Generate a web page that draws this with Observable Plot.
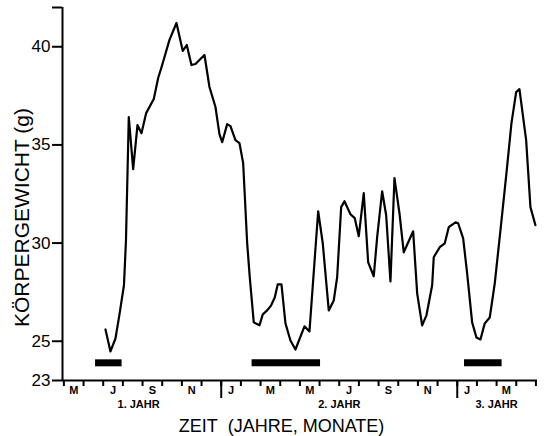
<!DOCTYPE html>
<html>
<head>
<meta charset="utf-8">
<script src="https://cdn.jsdelivr.net/npm/d3@7"></script>
<script src="https://cdn.jsdelivr.net/npm/@observablehq/plot@0.6"></script>
<style>
  html, body { margin: 0; padding: 0; background: #fff; }
  #chart { width: 544px; height: 436px; }
</style>
</head>
<body>
<div id="chart"></div>
<script>
// Time in months since 1 May of year 1 (0 = 1 May, 8 = 1 Jan year 2, 20 = 1 Jan year 3)
const months = [2.115, 2.369, 2.623, 2.827, 3.055, 3.157, 3.300, 3.523, 3.742, 3.945,
  4.184, 4.571, 4.794, 4.998, 5.369, 5.724, 6.045, 6.248, 6.487, 6.690,
  7.148, 7.402, 7.707, 7.910, 8.048, 8.302, 8.470, 8.724, 8.927, 9.115,
  9.319, 9.451, 9.654, 9.944, 10.112, 10.336, 10.539, 10.722, 10.874, 11.063,
  11.266, 11.520, 11.774, 12.232, 12.486, 12.929, 13.162, 13.467, 13.722, 13.894,
  14.098, 14.266, 14.571, 14.789, 14.993, 15.247, 15.471, 15.755, 15.928, 16.182,
  16.386, 16.604, 16.808, 17.062, 17.280, 17.758, 17.962, 18.216, 18.434, 18.724,
  18.805, 19.110, 19.365, 19.568, 19.909, 20.046, 20.300, 20.503, 20.757, 20.976,
  21.179, 21.398, 21.652, 21.907, 22.196, 22.501, 22.756, 22.995, 23.162, 23.503,
  23.721, 23.976];
// Body weight (g)
const weights = [25.60, 24.48, 25.14, 26.37, 27.85, 30.14, 36.42, 33.77, 36.01, 35.60,
  36.62, 37.34, 38.41, 39.07, 40.35, 41.21, 39.79, 40.09, 39.07, 39.12,
  39.58, 37.95, 36.93, 35.55, 35.14, 36.06, 35.96, 35.24, 35.09, 34.08,
  29.99, 28.26, 25.96, 25.81, 26.37, 26.57, 26.83, 27.23, 27.90, 27.90,
  25.91, 25.04, 24.58, 25.76, 25.50, 31.62, 29.99, 26.57, 27.08, 28.26,
  31.83, 32.13, 31.47, 31.27, 30.35, 32.54, 29.02, 28.31, 30.30, 32.64,
  31.42, 28.05, 33.31, 31.52, 29.53, 30.60, 27.44, 25.81, 26.32, 27.85,
  29.28, 29.79, 29.99, 30.81, 31.06, 31.01, 30.24, 28.46, 25.96, 25.19,
  25.09, 25.91, 26.21, 27.95, 30.65, 33.56, 36.11, 37.69, 37.84, 35.24,
  31.83, 30.91];

// Black period bars (start / end in months, level in g)
const barStarts = [1.61, 9.57, 20.37];
const barEnds = [2.96, 13.05, 22.28];
const barLevels = [23.9, 23.9, 23.9];

// Axis ticks and labels
const xDomain = [-0.07, 24.08];
const yDomain = [23, 42];
const yTicks = [23, 25, 30, 35, 40, 42];
const yTickLabels = ["23", "25", "30", "35", "40", ""];
const monthBoundaries = [0,1,2,3,4,5,6,7,8,9,10,11,12,13,14,15,16,17,18,19,20,21,22,23,24];
const yearBoundaries = [8, 20];
const monthLabelPos = [0.5, 2.5, 4.5, 6.5, 8.5, 10.5, 12.5, 14.5, 16.5, 18.5, 20.5, 22.5];
const monthLabels = ["M", "J", "S", "N", "J", "M", "M", "J", "S", "N", "J", "M"];
const yearLabelPos = [3.8, 14, 22];
const yearLabels = ["1. JAHR", "2. JAHR", "3. JAHR"];
const xTitle = "ZEIT\u00a0 (JAHRE, MONATE)";
const yTitle = "KÖRPERGEWICHT (g)";

const series = months.map((m, i) => ({m, w: weights[i]}));
const bars = barStarts.map((s, i) => ({start: s, end: barEnds[i], level: barLevels[i]}));
const yLabelMap = new Map(yTicks.map((t, i) => [t, yTickLabels[i]]));
const monthMap = new Map(monthLabelPos.map((p, i) => [p, monthLabels[i]]));
const yearMap = new Map(yearLabelPos.map((p, i) => [p, yearLabels[i]]));

const font = "'Liberation Sans', Arial, Helvetica, sans-serif";

const chart = Plot.plot({
  width: 544,
  height: 436,
  marginLeft: 62,
  marginRight: 7,
  marginTop: 7,
  marginBottom: 56,
  x: {domain: xDomain, label: null},
  y: {domain: yDomain, label: null},
  style: {fontFamily: font, color: "black", background: "white", overflow: "visible"},
  marks: [
    Plot.ruleY([yDomain[0]], {strokeWidth: 2}),
    Plot.ruleX([xDomain[0]], {strokeWidth: 2}),
    Plot.axisY({ticks: yTicks, tickFormat: d => yLabelMap.get(d), tickSize: 10, tickPadding: 2,
      fontSize: 17, strokeWidth: 2, label: null}),
    Plot.axisX({ticks: monthBoundaries, tickSize: 6, tickFormat: () => "", strokeWidth: 2, label: null}),
    Plot.axisX({ticks: yearBoundaries, tickSize: 18, tickFormat: () => "", strokeWidth: 2, label: null}),
    Plot.axisX({ticks: monthLabelPos, tickSize: 0, tickPadding: 6, tickFormat: d => monthMap.get(d),
      fontSize: 11, fontWeight: "bold", label: null}),
    Plot.axisX({ticks: yearLabelPos, tickSize: 0, tickPadding: 20, tickFormat: d => yearMap.get(d),
      fontSize: 11, fontWeight: "bold", label: null}),
    Plot.ruleY(bars, {x1: "start", x2: "end", y: "level", strokeWidth: 7}),
    Plot.line(series, {x: "m", y: "w", stroke: "black", strokeWidth: 2.2}),
    Plot.text([xTitle], {text: d => d, frameAnchor: "bottom", textAnchor: "middle", lineAnchor: "middle",
      dx: -18.5, dy: 45.5, fontSize: 18}),
    Plot.text([yTitle], {text: d => d, frameAnchor: "left", textAnchor: "middle", lineAnchor: "middle",
      rotate: -90, dx: -40, dy: 23.5, fontSize: 21})
  ]
});
document.getElementById("chart").appendChild(chart);
</script>
</body>
</html>
